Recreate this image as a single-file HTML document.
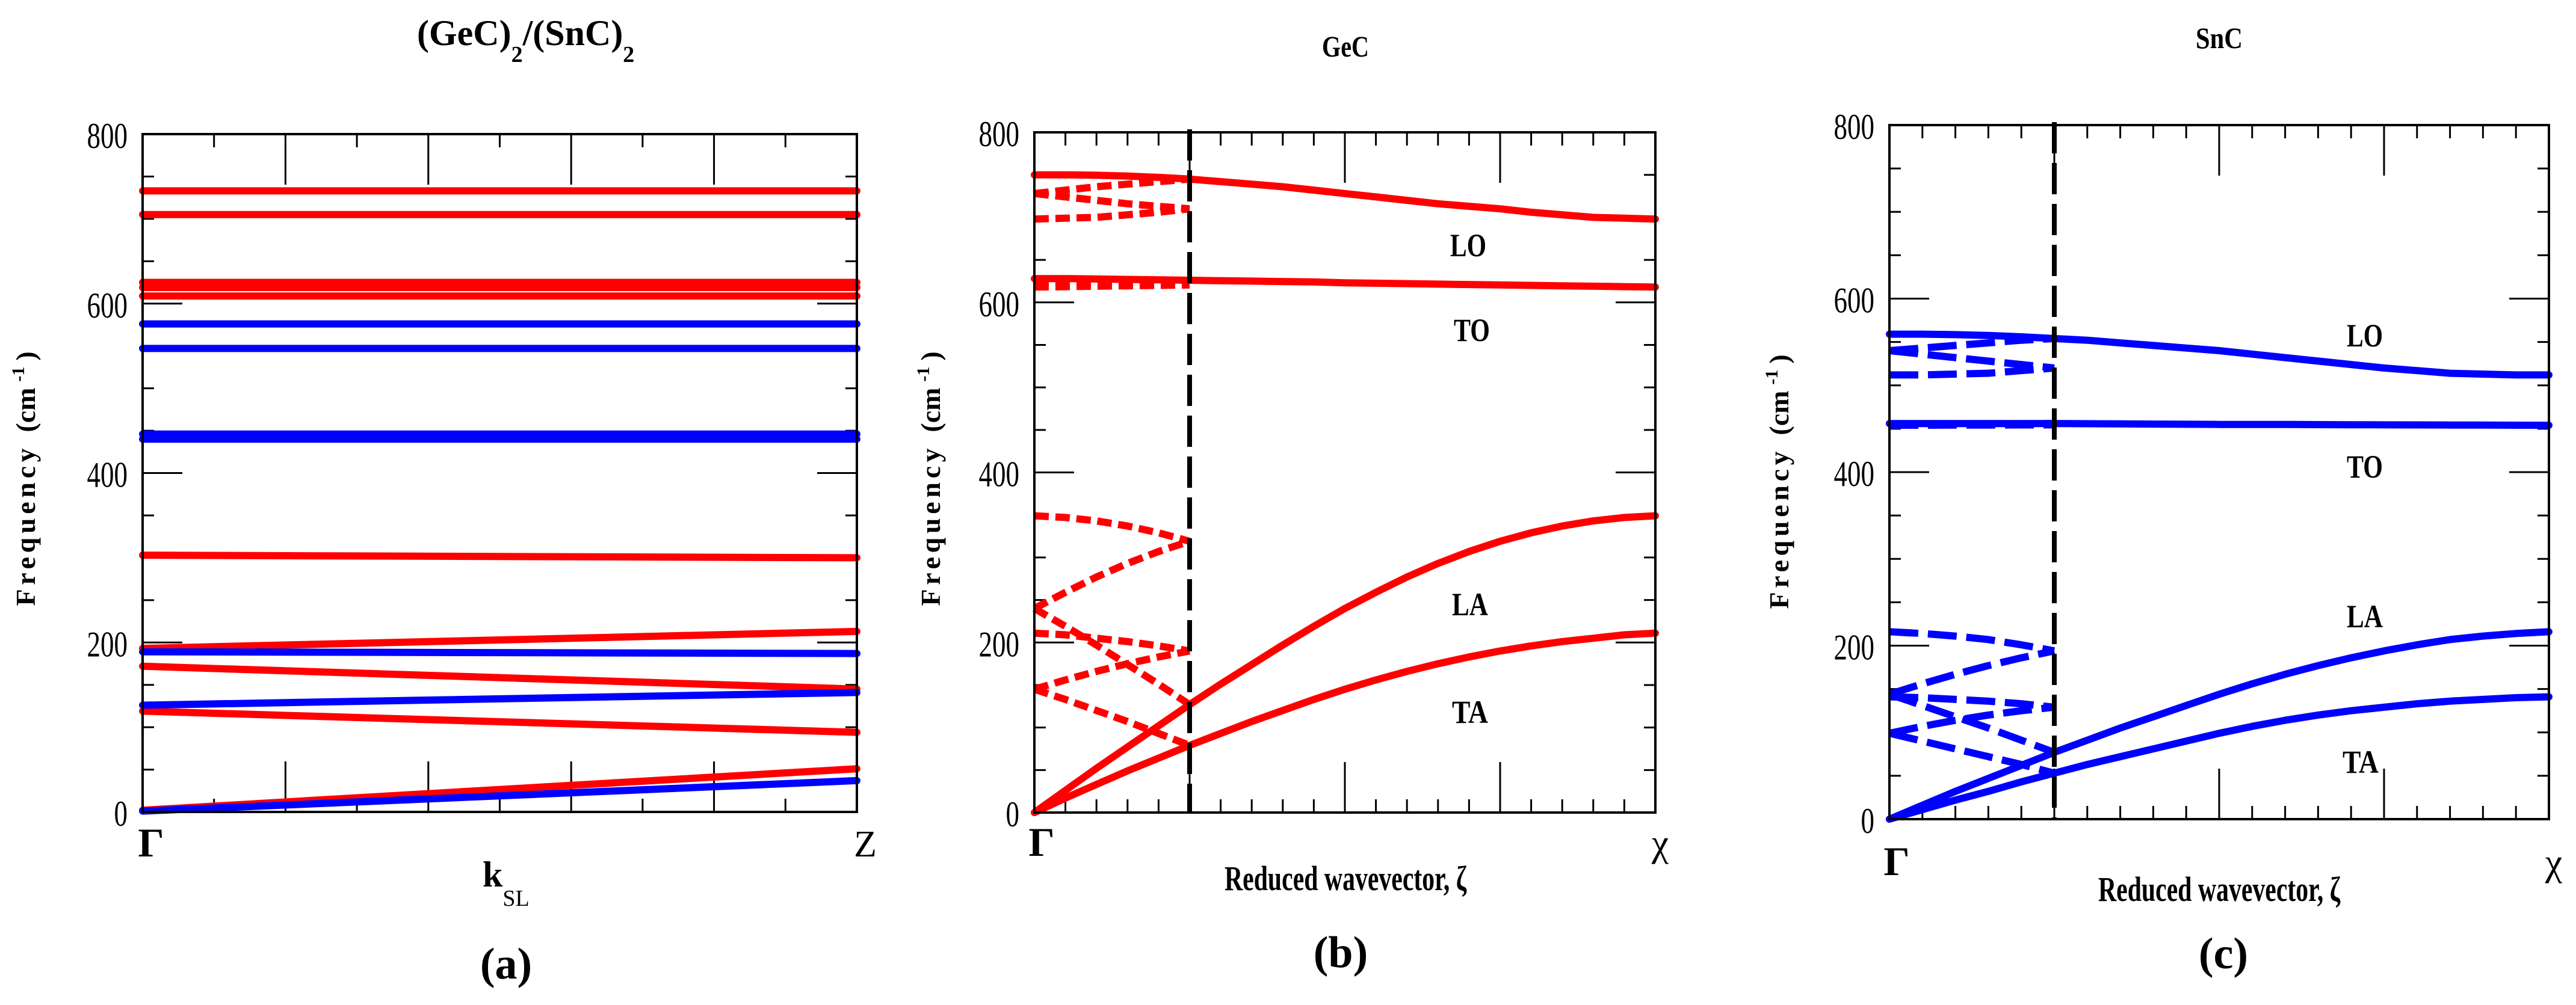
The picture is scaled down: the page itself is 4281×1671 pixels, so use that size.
<!DOCTYPE html>
<html><head><meta charset="utf-8">
<style>
html,body{margin:0;padding:0;background:#fff;}
svg{display:block;}
text{font-family:"Liberation Serif",serif;}
</style></head>
<body>
<svg id="fig" xmlns="http://www.w3.org/2000/svg" width="4281" height="1671" viewBox="0 0 4281 1671">
<rect width="4281" height="1671" fill="#fff"/>
</svg>
<script>
// ---------- data ----------
const zeta = [0,0.05,0.1,0.15,0.2,0.25,0.3,0.35,0.4,0.45,0.5,0.55,0.6,0.65,0.7,0.75,0.8,0.85,0.9,0.95,1.0];
const gecLA = [0,26,52,77,102,127,151,174,197,219,240,259,277,293,307,319,329,337,343,347,349];
const gecTA = [0,17,33,49,64,79,93,107,120,133,145,156,166,175,183,190,196,201,205,209,211];
const gecLO = [750,750,749.5,748.5,747,745,742,739,736,732,728,724,720,716,713,710,706,703,700,699,698];
const gecTO = [628,628,627.5,627,626.5,626,625.5,625,624.5,624,623,622.5,622,621.5,621,620.5,620,619.5,619,618.5,618];
const sncLA = [0,16,32,47,62,77,91,105,118,131,144,156,167,177,186,194,201,207,211,214,216];
const sncTA = [0,11,22,32,43,53,63,72,81,90,99,107,114,120,125,129,133,136,138,140,141];
const sncLO = [559,559,558.5,557.5,556,554,552,549,546,543,540,536,532,528,524,520,517,514,513,512,512];
const sncTO = [456,456,456,456,456,456,455.8,455.6,455.4,455.2,455,455,455,454.8,454.6,454.5,454.4,454.3,454.2,454.1,454];
// superlattice (a): [value at Gamma, value at Z]
const slRedStart = [733,705,625,619,609,303,193,172,119,2];
const slRedEnd   = [733,705,625,619,609,300,213,145,94,51];
const slBlueStart = [576,547,446,440,189,126,1];
const slBlueEnd   = [576,547,446,440,187,141,37];
const yTicks = [0,200,400,600,800];

const NS="http://www.w3.org/2000/svg";
const svg=document.getElementById('fig');
function mk(tag,attrs,parent){const e=document.createElementNS(NS,tag);for(const k in attrs)e.setAttribute(k,attrs[k]);(parent||svg).appendChild(e);return e;}
function txt(s,x,y,size,opts,parent){opts=opts||{};const t=mk('text',{x:x,y:y,'font-size':size,'text-anchor':opts.anchor||'middle','font-weight':opts.bold?'bold':'normal'},parent);
  if(opts.len){t.setAttribute('textLength',opts.len);t.setAttribute('lengthAdjust','spacingAndGlyphs');}
  t.textContent=s;return t;}

function makePanel(name,L,R,T,B,xMajor,xMinorStep){
  const g=mk('g',{});
  
  
  const p={g,L,R,T,B,
    x:v=>L+(R-L)*v,
    y:v=>B-(B-T)*v/800};
  for(let v=50;v<800;v+=50){
    const len=(v%200===0)?66:19;
    const yy=p.y(v);
    const t1=mk('line',{x1:L,x2:L+len,y1:yy,y2:yy,stroke:'#000','stroke-width':3},g);
    
    
    const t2=mk('line',{x1:R,x2:R-len,y1:yy,y2:yy,stroke:'#000','stroke-width':3},g);
    
    
  }
  for(let v=xMinorStep;v<0.999;v+=xMinorStep){
    const isMaj=xMajor.some(m=>Math.abs(m-v)<1e-6);
    const len=isMaj?84:22;
    const xx=p.x(v);
    const t1=mk('line',{x1:xx,x2:xx,y1:B,y2:B-len,stroke:'#000','stroke-width':3},g);
    
    
    const t2=mk('line',{x1:xx,x2:xx,y1:T,y2:T+len,stroke:'#000','stroke-width':3},g);
    
    
  }
  yTicks.forEach(v=>{
    const s=String(v);
    const t=txt(s,L-25,p.y(v)+23,60,{anchor:'end',len:s.length*22.5},g);
    
    
  });
  p.frame=()=>{const r=mk('rect',{x:L,y:T,width:R-L,height:B-T,fill:'none',stroke:'#000','stroke-width':4},g);
    };
  return p;
}
function poly(p,xs,ys,color,dash,nm){
  const pts=xs.map((v,i)=>p.x(v).toFixed(1)+','+p.y(ys[i]).toFixed(1)).join(' ');
  const e=mk('polyline',{points:pts,fill:'none',stroke:color,'stroke-width':12,'stroke-linecap':dash?'butt':'round','stroke-linejoin':'round'},p.g);
  if(dash)e.setAttribute('stroke-dasharray',dash);
  
  
}
function yLabel(x,y,len){
  const g=mk('g',{transform:`translate(${x},${y}) rotate(-90)`});
  
  
  const t=mk('text',{x:-len/2,y:0,'font-size':46,'font-weight':'bold','text-anchor':'start'},g);
  t.innerHTML='<tspan textLength="'+(len*0.6)+'" lengthAdjust="spacing">Frequency</tspan><tspan dx="20">(cm</tspan><tspan dy="-18" dx="10" font-size="30">-1</tspan><tspan dy="18" dx="10">)</tspan>';
}

// ---------- panel a ----------
const pa=makePanel('panel-a-superlattice',237,1424,223,1350,[0.2,0.4,0.6,0.8],0.1);
slRedStart.forEach((v,i)=>poly(pa,[0,1],[v,slRedEnd[i]],'#ff0000',null,'superlattice-red-branch'));
slBlueStart.forEach((v,i)=>poly(pa,[0,1],[v,slBlueEnd[i]],'#0000ff',null,'superlattice-blue-branch'));
pa.frame();
let t;
t=mk('text',{x:693,y:75,'font-size':60,'font-weight':'bold','text-anchor':'start'});

t.innerHTML='(GeC)<tspan dy="28" font-size="38">2</tspan><tspan dy="-28">/(SnC)</tspan><tspan dy="28" font-size="38">2</tspan>';
yLabel(58,789,437);
t=txt('Γ',251,1424,68,{bold:true});
t=txt('Z',1438,1424,62,{});
t=mk('text',{x:802,y:1474,'font-size':60,'font-weight':'bold','text-anchor':'start'});

t.innerHTML='k<tspan dy="32" font-size="38" font-weight="normal">SL</tspan>';
t=txt('(a)',841,1627,74,{bold:true});

// ---------- folded + bulk panels ----------
function bulkPanel(cfg){
  const {name,L,R,T,B,LA,TA,LO,TO,color,dash}=cfg;
  const p=makePanel(name,L,R,T,B,[0.25,0.5,0.75],0.05);
  const q=5; // index of zeta=0.25
  const zs=zeta.slice(0,q+1);
  [LA,TA,LO,TO].forEach(arr=>{
    poly(p,zs,zs.map((z,i)=>arr[10-i]),color,dash,'folded-branch');
    poly(p,zs,zs.map((z,i)=>arr[10+i]),color,dash,'folded-branch');
    poly(p,zs,zs.map((z,i)=>arr[20-i]),color,dash,'folded-branch');
  });
  poly(p,zeta,LO,color,null,'lo-branch');
  poly(p,zeta,TO,color,null,'to-branch');
  poly(p,zeta,LA,color,null,'la-branch');
  poly(p,zeta,TA,color,null,'ta-branch');
  const vx=p.x(0.25);
  const vl=mk('line',{x1:vx,x2:vx,y1:T-5,y2:B,stroke:'#000','stroke-width':8,'stroke-dasharray':'52 16'},p.g);
  
  
  p.frame();
  let t=txt(cfg.title,cfg.titleX,cfg.titleY,50,{bold:true,len:cfg.title.length*26});
  ['LO','TO','LA','TA'].forEach((s,i)=>{const e=txt(s,cfg.labX[i],cfg.labY[i],54,{bold:true,len:60});});
  yLabel(cfg.ylabX,cfg.ylabY,437);
  t=txt('Γ',L+12,cfg.gY,68,{bold:true});
  t=txt('χ',R+8,cfg.gY,64,{});
  t=txt('Reduced wavevector, ζ',cfg.xtX,cfg.xtY,58,{bold:true,len:402});
  
  t=txt(cfg.cap,cfg.capX,cfg.capY,74,{bold:true});
}
bulkPanel({name:'panel-b-gec',L:1719,R:2751,T:220,B:1351,LA:gecLA,TA:gecTA,LO:gecLO,TO:gecTO,color:'#ff0000',dash:'24 11',
  title:'GeC',titleX:2236,titleY:94,labX:[2440,2446,2443,2443],labY:[426,567,1023,1202],ylabX:1562,ylabY:789,
  gY:1423,xtX:2236,xtY:1480,cap:'(b)',capX:2228,capY:1608});
bulkPanel({name:'panel-c-snc',L:3140,R:4236,T:208,B:1362,LA:sncLA,TA:sncTA,LO:sncLO,TO:sncTO,color:'#0000ff',dash:'48 16',
  title:'SnC',titleX:3688,titleY:80,labX:[3930,3930,3930,3923],labY:[576,794,1043,1285],ylabX:2972,ylabY:794,
  gY:1455,xtX:3688,xtY:1498,cap:'(c)',capX:3695,capY:1610});
</script>
</body></html>
